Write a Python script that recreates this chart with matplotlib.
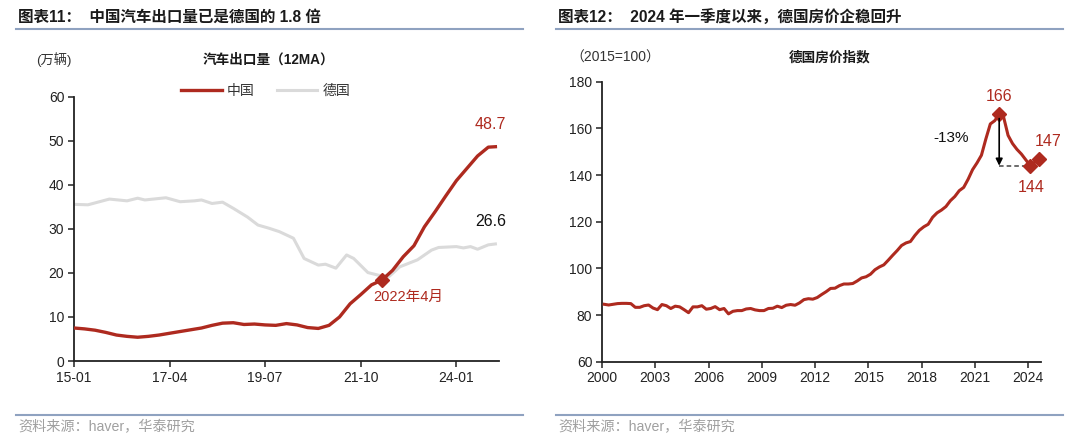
import matplotlib.pyplot as plt
import matplotlib.dates as mdates
import pandas as pd

plt.rcParams['font.family'] = ['Liberation Sans', 'Noto Sans CJK SC']

RED = '#AE2A1F'
GRAY_LINE = '#DADADA'
RULE = '#8FA2C0'
SRC = '#A0A0A0'

# ── Left chart data: car exports, 12MA (10k units) ──────────────────────────
china_dates = list(pd.date_range('2015-01-01', '2024-10-01', freq='3MS')) + [pd.Timestamp('2024-12-01')]
china_vals = [7.5, 7.3, 7.0, 6.5, 5.9, 5.6, 5.4, 5.6, 5.9, 6.3,
              6.7, 7.1, 7.5, 8.1, 8.6, 8.7, 8.3, 8.4, 8.2, 8.1,
              8.5, 8.2, 7.6, 7.4, 8.1, 10.0, 13.0, 15.1, 17.3, 18.4,
              20.6, 23.7, 26.2, 30.5, 33.9, 37.5, 41.0, 43.8, 46.6, 48.6,
              48.7]

germany_dates = pd.to_datetime([
    '2015-01', '2015-05', '2015-11', '2016-04', '2016-07', '2016-09', '2017-03',
    '2017-07', '2017-11', '2018-01', '2018-04', '2018-07', '2018-10', '2019-02',
    '2019-05', '2019-08', '2019-11', '2020-03', '2020-06', '2020-10', '2020-12',
    '2021-03', '2021-06', '2021-08', '2021-12', '2022-03', '2022-06', '2022-09',
    '2023-02', '2023-06', '2023-08', '2024-01', '2024-03', '2024-05', '2024-07',
    '2024-10', '2024-12'])
germany_vals = [35.6, 35.5, 36.8, 36.4, 37.0, 36.6, 37.1,
                36.2, 36.4, 36.6, 35.8, 36.1, 34.7, 32.7,
                30.9, 30.2, 29.4, 27.9, 23.3, 21.8, 22.0,
                21.1, 24.1, 23.3, 20.1, 19.5, 19.2, 21.4,
                23.0, 25.2, 25.8, 26.0, 25.7, 26.0, 25.4,
                26.4, 26.6]

left_ticks = ['2015-01', '2017-04', '2019-07', '2021-10', '2024-01']
left_ticklabels = ['15-01', '17-04', '19-07', '21-10', '24-01']
mark_date = pd.Timestamp('2022-04-01')

# ── Right chart data: German house price index, quarterly, 2015=100 ─────────
hpi_start_year = 2000
hpi_vals = [84.6, 84.3, 84.6, 84.9,   # 2000
            85.0, 85.0, 84.9, 83.3,   # 2001
            83.3, 84.0, 84.3, 83.0,   # 2002
            82.3, 84.5, 84.0, 82.8,   # 2003
            83.8, 83.5, 82.3, 81.0,   # 2004
            83.5, 83.5, 84.0, 82.5,   # 2005
            82.8, 83.6, 82.3, 82.8,   # 2006
            80.5, 81.6, 81.9, 81.9,   # 2007
            82.6, 82.8, 82.2, 81.9,   # 2008
            81.9, 82.8, 82.9, 83.8,   # 2009
            83.2, 84.2, 84.5, 84.2,   # 2010
            85.2, 86.6, 87.0, 86.8,   # 2011
            87.5, 88.8, 90.0, 91.4,   # 2012
            91.5, 92.6, 93.3, 93.3,   # 2013
            93.5, 94.6, 95.9, 96.4,   # 2014
            97.5, 99.4, 100.6, 101.5,  # 2015
            103.5, 105.6, 107.6, 109.8,  # 2016
            110.9, 111.5, 114.1, 116.3,  # 2017
            117.8, 118.9, 121.9, 123.8,  # 2018
            125.0, 126.5, 129.0, 130.8,  # 2019
            133.3, 134.7, 138.2, 142.3,  # 2020
            145.2, 148.5, 155.5, 161.9,  # 2021
            163.3, 166.0, 164.8, 157.0,  # 2022
            153.5, 151.0, 149.0, 146.5,  # 2023
            144.0, 145.5, 147.0]         # 2024
hpi_years = [2000, 2003, 2006, 2009, 2012, 2015, 2018, 2021, 2024]


def style_axes(ax):
    for s in ['top', 'right']:
        ax.spines[s].set_visible(False)
    for s in ['left', 'bottom']:
        ax.spines[s].set_linewidth(1.3)
        ax.spines[s].set_color('#222222')
    ax.tick_params(axis='both', direction='out', length=4, width=1.1,
                   labelsize=10, colors='#222222', pad=3)


fig = plt.figure(figsize=(10.8, 4.4), dpi=100)

# headers, rules, sources
for x0, x1, head in [(16, 523, '图表11：  中国汽车出口量已是德国的 1.8 倍'),
                     (556, 1063, '图表12：  2024 年一季度以来，德国房价企稳回升')]:
    fig.text((x0 + 2) / 1080, 1 - 17 / 440, head, fontsize=11.2, fontweight='bold',
             color='#1a1a1a', va='center', ha='left')
    fig.add_artist(plt.Line2D([x0 / 1080, x1 / 1080], [1 - 29 / 440] * 2,
                              color=RULE, lw=1.5))
    fig.add_artist(plt.Line2D([x0 / 1080, x1 / 1080], [1 - 415 / 440] * 2,
                              color=RULE, lw=1.5))
    fig.text((x0 + 2) / 1080, 1 - 427 / 440, '资料来源：haver，华泰研究', fontsize=10.2,
             color=SRC, va='center', ha='left')

# ── Left chart ──────────────────────────────────────────────────────────────
ax1 = fig.add_axes([74 / 1080, 1 - 361 / 440, 425 / 1080, 264 / 440])
ax1.plot(germany_dates, germany_vals, color=GRAY_LINE, lw=2.2, label='德国', zorder=2)
ax1.plot(china_dates, china_vals, color=RED, lw=2.4, label='中国', zorder=3)
mark_val = china_vals[china_dates.index(mark_date)]
ax1.plot([mark_date], [mark_val], marker='D', ms=7, color=RED, zorder=4)
ax1.set_ylim(0, 60)
ax1.set_yticks(range(0, 61, 10))
ax1.set_xlim(pd.Timestamp('2015-01-01'), pd.Timestamp('2025-01-01'))
ax1.set_xticks(pd.to_datetime(left_ticks))
ax1.set_xticklabels(left_ticklabels)
style_axes(ax1)

ax1.annotate(f'{china_vals[-1]:.1f}', (china_dates[-1], china_vals[-1]),
             xytext=(-5, 22), textcoords='offset pixels', ha='center', va='center',
             color=RED, fontsize=11.5)
ax1.annotate(f'{germany_vals[-1]:.1f}', (germany_dates[-1], germany_vals[-1]),
             xytext=(-5, 22), textcoords='offset pixels', ha='center', va='center',
             color='#111111', fontsize=11.5)
ax1.annotate('2022年4月', (mark_date, mark_val), xytext=(26, -17),
             textcoords='offset pixels', ha='center', va='center', color=RED, fontsize=10.5)

fig.text(54 / 1080, 1 - 60 / 440, '(万辆)', fontsize=9.5, ha='center', va='center', color='#333333')
fig.text(268 / 1080, 1 - 60 / 440, '汽车出口量（12MA）', fontsize=9.8, fontweight='bold',
         ha='center', va='center', color='#1a1a1a')
h, l = ax1.get_legend_handles_labels()
fig.legend(h[::-1], l[::-1], loc='center', bbox_to_anchor=(266 / 1080, 1 - 91 / 440),
           ncol=2, frameon=False, fontsize=10, handlelength=2.9, columnspacing=1.6,
           handletextpad=0.4, labelcolor='#333333')

# ── Right chart ─────────────────────────────────────────────────────────────
hpi_x = [hpi_start_year + i / 4 + 0.125 for i in range(len(hpi_vals))]
ax2 = fig.add_axes([602 / 1080, 1 - 361.7 / 440, 439 / 1080, 280 / 440])
ax2.plot(hpi_x, hpi_vals, color=RED, lw=2.2, zorder=3, clip_on=False)
ax2.set_ylim(60, 180)
ax2.set_yticks(range(60, 181, 20))
ax2.set_xlim(2000, 2024.73)
ax2.set_xticks(hpi_years)
style_axes(ax2)

i_peak = hpi_vals.index(max(hpi_vals))
i_low = hpi_vals.index(min(hpi_vals[i_peak:]))
i_last = len(hpi_vals) - 1
for i in [i_peak, i_low, i_last]:
    ax2.plot([hpi_x[i]], [hpi_vals[i]], marker='D', ms=7, color=RED, zorder=4, clip_on=False)

ax2.annotate('', xy=(hpi_x[i_peak], hpi_vals[i_low]), xytext=(hpi_x[i_peak], hpi_vals[i_peak]),
             arrowprops=dict(arrowstyle='-|>', color='black', lw=1.2, shrinkA=3, shrinkB=0,
                             mutation_scale=10), zorder=5)
ax2.plot([hpi_x[i_peak], hpi_x[i_low]], [hpi_vals[i_low]] * 2, color='#444444', lw=1.1,
         ls=(0, (3, 2)), zorder=2)
drop = (hpi_vals[i_low] / hpi_vals[i_peak] - 1) * 100
ax2.text(hpi_x[i_peak] - 2.7, 156, f'{drop:.0f}%', ha='center', va='center',
         fontsize=11, color='#111111')
ax2.annotate(f'{hpi_vals[i_peak]:.0f}', (hpi_x[i_peak], hpi_vals[i_peak]), xytext=(0, 18),
             textcoords='offset pixels', ha='center', va='center', color=RED, fontsize=11.5)
ax2.annotate(f'{hpi_vals[i_low]:.0f}', (hpi_x[i_low], hpi_vals[i_low]), xytext=(1, -22),
             textcoords='offset pixels', ha='center', va='center', color=RED, fontsize=11.5)
ax2.annotate(f'{hpi_vals[i_last]:.0f}', (hpi_x[i_last], hpi_vals[i_last]), xytext=(9, 17),
             textcoords='offset pixels', ha='center', va='center', color=RED, fontsize=11.5)

fig.text(615 / 1080, 1 - 58 / 440, '（2015=100）', fontsize=10, ha='center', va='center', color='#333333')
fig.text(830 / 1080, 1 - 57 / 440, '德国房价指数', fontsize=9.8, fontweight='bold',
         ha='center', va='center', color='#1a1a1a')

fig.savefig('out.png', dpi=100)
